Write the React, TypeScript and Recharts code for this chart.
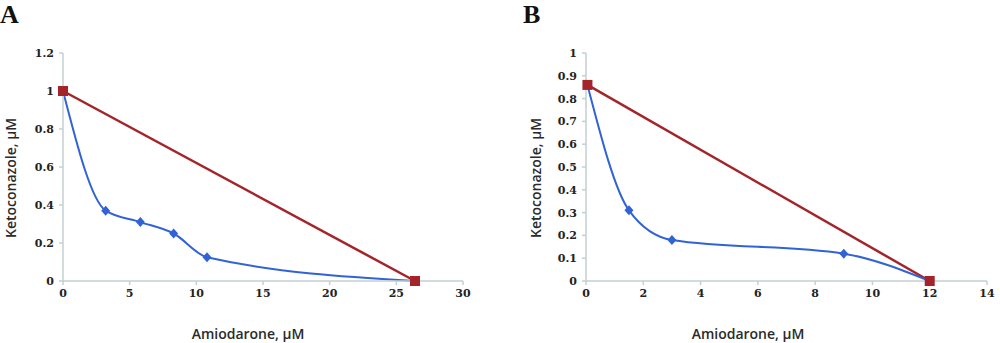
import React from 'react';
import { LineChart, Line, XAxis, YAxis } from 'recharts';

// Panel A data
const aBlueX = [0, 3.2, 5.8, 8.3, 10.8, 26.4];
const aBlueY = [1, 0.37, 0.31, 0.25, 0.125, 0];
const aRedX = [0, 26.4];
const aRedY = [1, 0];
const aXTicks = [0, 5, 10, 15, 20, 25, 30];
const aYTicks = [0, 0.2, 0.4, 0.6, 0.8, 1, 1.2];

// Panel B data
const bBlueX = [0.05, 1.5, 3, 9, 12];
const bBlueY = [0.86, 0.31, 0.18, 0.12, 0];
const bRedX = [0.05, 12];
const bRedY = [0.86, 0];
const bXTicks = [0, 2, 4, 6, 8, 10, 12, 14];
const bYTicks = [0, 0.1, 0.2, 0.3, 0.4, 0.5, 0.6, 0.7, 0.8, 0.9, 1];

const xTitle = 'Amiodarone, µM';
const yTitle = 'Ketoconazole, µM';

const BLUE = '#3263d6';
const RED = '#a3252a';
const AXIS = '#c3d0d0';

const zip = (xs: number[], ys: number[]) => xs.map((x, i) => ({ x, y: ys[i] }));

const Square = (props: any) => {
  const { cx, cy } = props;
  if (cx == null || cy == null) return null;
  return <rect x={cx - 5} y={cy - 5} width={10} height={10} fill={RED} />;
};
const Diamond = (props: any) => {
  const { cx, cy, index } = props;
  if (cx == null || cy == null) return null;
  if (index === 0) return null;
  return (
    <polygon
      points={`${cx},${cy - 5} ${cx + 4.5},${cy} ${cx},${cy + 5} ${cx - 4.5},${cy}`}
      fill={BLUE}
    />
  );
};

const tickStyle = { fontFamily: 'DejaVu Serif', fontWeight: 'bold', fontSize: 11, fill: '#222' };
const fmt = (v: number) => String(Math.round(v * 10) / 10);

function Panel(props: {
  width: number;
  yAxisW: number;
  right: number;
  xMax: number;
  yMax: number;
  xTicks: number[];
  yTicks: number[];
  blue: { x: number; y: number }[];
  red: { x: number; y: number }[];
}) {
  const { width, yAxisW, right, xMax, yMax, xTicks, yTicks, blue, red } = props;
  return (
    <LineChart
      width={width}
      height={343}
      margin={{ top: 53, right, bottom: 32, left: 0 }}
    >
      <XAxis
        type="number"
        dataKey="x"
        domain={[0, xMax]}
        ticks={xTicks}
        height={30}
        stroke={AXIS}
        strokeWidth={1.5}
        tickSize={4}
        tickMargin={4}
        tick={tickStyle}
        tickFormatter={fmt}
        interval={0}
      />
      <YAxis
        type="number"
        dataKey="y"
        domain={[0, yMax]}
        ticks={yTicks}
        width={yAxisW}
        stroke={AXIS}
        strokeWidth={1.5}
        tickSize={4}
        tickMargin={5}
        tick={tickStyle}
        tickFormatter={fmt}
        interval={0}
      />
      <Line
        data={red}
        dataKey="y"
        type="linear"
        stroke={RED}
        strokeWidth={2.5}
        dot={false}
        isAnimationActive={false}
      />
      <Line
        data={blue}
        dataKey="y"
        type="monotone"
        stroke={BLUE}
        strokeWidth={2}
        dot={<Diamond />}
        isAnimationActive={false}
      />
      <Line
        data={red}
        dataKey="y"
        type="linear"
        stroke="none"
        dot={<Square />}
        isAnimationActive={false}
        legendType="none"
      />
    </LineChart>
  );
}

const letterStyle: React.CSSProperties = {
  position: 'absolute',
  fontFamily: 'Liberation Serif',
  fontWeight: 'bold',
  fontSize: 26,
  lineHeight: '26px',
  color: '#111',
};
const titleStyle: React.CSSProperties = {
  position: 'absolute',
  fontFamily: 'Open Sans',
  fontWeight: 600,
  fontSize: 14,
  lineHeight: '16px',
  color: '#2a2a2a',
  whiteSpace: 'nowrap',
};

export default function App() {
  return (
    <div style={{ position: 'absolute', left: 0, top: 0, width: 1000, height: 343, background: '#fff', overflow: 'hidden' }}>
      <div style={{ position: 'absolute', left: 0, top: 0 }}>
        <Panel
          width={480}
          yAxisW={63}
          right={17}
          xMax={30}
          yMax={1.2}
          xTicks={aXTicks}
          yTicks={aYTicks}
          blue={zip(aBlueX, aBlueY)}
          red={zip(aRedX, aRedY)}
        />
      </div>
      <div style={{ position: 'absolute', left: 500, top: 0 }}>
        <Panel
          width={500}
          yAxisW={86}
          right={13}
          xMax={14}
          yMax={1}
          xTicks={bXTicks}
          yTicks={bYTicks}
          blue={zip(bBlueX, bBlueY)}
          red={zip(bRedX, bRedY)}
        />
      </div>
      <div style={{ ...letterStyle, left: 0, top: 2 }}>A</div>
      <div style={{ ...letterStyle, left: 523, top: 2 }}>B</div>
      <div style={{ ...titleStyle, left: 248, top: 326, transform: 'translateX(-50%)' }}>{xTitle}</div>
      <div style={{ ...titleStyle, left: 748, top: 326, transform: 'translateX(-50%)' }}>{xTitle}</div>
      <div style={{ ...titleStyle, left: 11, top: 178, transform: 'translate(-50%, -50%) rotate(-90deg)' }}>{yTitle}</div>
      <div style={{ ...titleStyle, left: 536, top: 178, transform: 'translate(-50%, -50%) rotate(-90deg)' }}>{yTitle}</div>
    </div>
  );
}
